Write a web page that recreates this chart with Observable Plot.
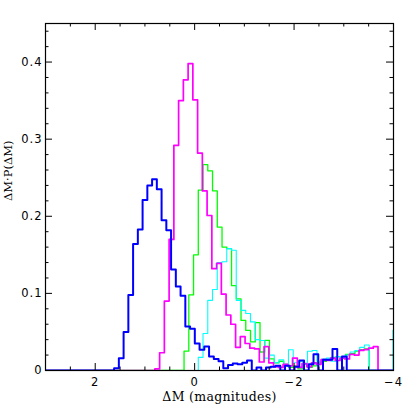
<!DOCTYPE html>
<html><head><meta charset="utf-8">
<script src="https://cdn.jsdelivr.net/npm/d3@7"></script>
<script src="https://cdn.jsdelivr.net/npm/@observablehq/plot@0.6"></script>
<style>
body{margin:0;background:#fff}
#chart svg{display:block}
#chart g[aria-label="y-axis tick label"] text,
#chart g[aria-label="x-axis tick label"] text{letter-spacing:1px}
#chart g.xlab text{letter-spacing:0.3px}
</style>
</head><body><div id="chart"></div>
<script>
// Histogram bins: left edge (largest ΔM) and bin width, heights in order of decreasing ΔM
const binWidth = 0.0955;

const blueStart = 1.62;
const blueHeights = [0.003,0.016,0.050,0.098,0.164,0.183,0.221,0.240,0.248,0.235,
  0.195,0.182,0.131,0.109,0.097,0.057,0.054,0.035,0.027,0.031,
  0.018,0.015,0.012,0.003,0.007,0.009,0.008,0.010,0.013,0.0,
  0.004,0.0,0.004,0.005,0.006,0.0,0.006,0.0,0.005,0.013,
  0.0,0.008,0.021,0.0,0.014,0.014,0.028,0.0,0.018];

const magentaStart = 0.80;
const magentaHeights = [0.002,0.023,0.090,0.170,0.292,0.350,0.377,0.398,0.351,0.282,
  0.233,0.201,0.132,0.139,0.099,0.072,0.060,0.030,0.044,0.035,
  0.029,0.028,0.011,0.031,0.010,0.005,0.004,0.008,0.006,0.016,
  0.004,0.009,0.005,0.010,0.008,0.014,0.013,0.016,0.013,0.016,
  0.015,0.021,0.020,0.026,0.027,0.029,0.031];

const greenStart = 0.213;
const greenHeights = [0.025,0.098,0.150,0.234,0.267,0.259,0.233,0.186,0.160,0.158,
  0.110,0.093,0.065,0.052,0.037,0.062,0.024,0.039,0.015,0.010,
  0.012,0.008,0.004,0.006,0.002,0.008,0.004,0.006,0.010,0.012,
  0.014,0.017,0.018,0.018,0.021,0.022,0.025,0.027,0.028];

const cyanStart = -0.073;
const cyanHeights = [0.017,0.048,0.091,0.105,0.140,0.141,0.158,0.156,0.091,0.078,
  0.074,0.063,0.040,0.039,0.016,0.020,0.010,0.014,0.008,0.027,
  0.010,0.012,0.008,0.025,0.026,0.012,0.015,0.016,0.012,0.018,
  0.017,0.020,0.024,0.026,0.030,0.033,0,0,0,0,0,0.052];

const xMajorTicks = [2, 0, -2, -4];
const xMinorTicks = [2.5, 1.5, 1, 0.5, -0.5, -1, -1.5, -2.5, -3, -3.5];
const yMajorTicks = [0, 0.1, 0.2, 0.3, 0.4];
const yMinorTicks = [0.02,0.04,0.06,0.08,0.12,0.14,0.16,0.18,0.22,0.24,0.26,0.28,0.32,0.34,0.36,0.38,0.42,0.44];

const xLabel = "ΔM (magnitudes)";
const yLabel = "ΔM·P(ΔM)";

const W = 415, H = 415, mL = 45, mR = 22, mT = 23, mB = 45;
const innerW = W - mL - mR, innerH = H - mT - mB;

function outline(start, heights) {
  const pts = [{x: 3, y: 0}];
  heights.forEach((h, i) => pts.push({x: start - i * binWidth, y: h}));
  const end = start - heights.length * binWidth;
  pts.push({x: end, y: 0});
  if (end > -4) pts.push({x: -4, y: 0});
  return pts;
}

const series = [
  {pts: outline(greenStart, greenHeights), color: "#00ff00", w: 1.3},
  {pts: outline(cyanStart, cyanHeights), color: "#00ffff", w: 1.1},
  {pts: outline(magentaStart, magentaHeights), color: "#ff00ff", w: 1.7},
  {pts: outline(blueStart, blueHeights), color: "#0000ff", w: 2}
];

const tickFont = "DejaVu Sans";
const labelFont = "DejaVu Serif";
const fmtY = d => d === 0 ? "0" : d3.format(".1f")(d);

const chart = Plot.plot({
  width: W, height: H,
  marginLeft: mL, marginRight: mR, marginTop: mT, marginBottom: mB,
  style: {fontFamily: tickFont, fontSize: "11px", background: "#fff"},
  x: {domain: [3, -4]},
  y: {domain: [0, 0.45]},
  marks: [
    ...series.map(s => Plot.line(s.pts, {x: "x", y: "y", curve: "step-after", stroke: s.color, strokeWidth: s.w, clip: true})),
    Plot.frame({stroke: "black", strokeWidth: 1.2}),
    Plot.tickX(xMajorTicks, {x: d => d, insetTop: innerH - 7, stroke: "black"}),
    Plot.tickX(xMajorTicks, {x: d => d, insetBottom: innerH - 7, stroke: "black"}),
    Plot.tickX(xMinorTicks, {x: d => d, insetTop: innerH - 3.5, stroke: "black"}),
    Plot.tickX(xMinorTicks, {x: d => d, insetBottom: innerH - 3.5, stroke: "black"}),
    Plot.tickY(yMajorTicks, {y: d => d, insetRight: innerW - 7, stroke: "black"}),
    Plot.tickY(yMajorTicks, {y: d => d, insetLeft: innerW - 7, stroke: "black"}),
    Plot.tickY(yMinorTicks, {y: d => d, insetRight: innerW - 3.5, stroke: "black"}),
    Plot.tickY(yMinorTicks, {y: d => d, insetLeft: innerW - 3.5, stroke: "black"}),
    Plot.axisX({ticks: xMajorTicks, tickSize: 0, tickPadding: 7, tickFormat: d3.format("d"), label: null, fontSize: 11.5, fill: "black"}),
    Plot.axisY({ticks: yMajorTicks, tickSize: 0, tickPadding: 3, tickFormat: fmtY, label: null, fontSize: 11.5, fill: "black"}),
    Plot.text([xLabel], {text: d => d, frameAnchor: "bottom", dy: 30, fontFamily: labelFont, fontSize: 12.5, fill: "black", className: "xlab"}),
    Plot.text([yLabel], {text: d => d, frameAnchor: "left", dx: -37, dy: 4, rotate: -90, fontFamily: labelFont, fontSize: 11.5, fill: "black"})
  ]
});
document.getElementById("chart").appendChild(chart);
</script>
</body></html>
